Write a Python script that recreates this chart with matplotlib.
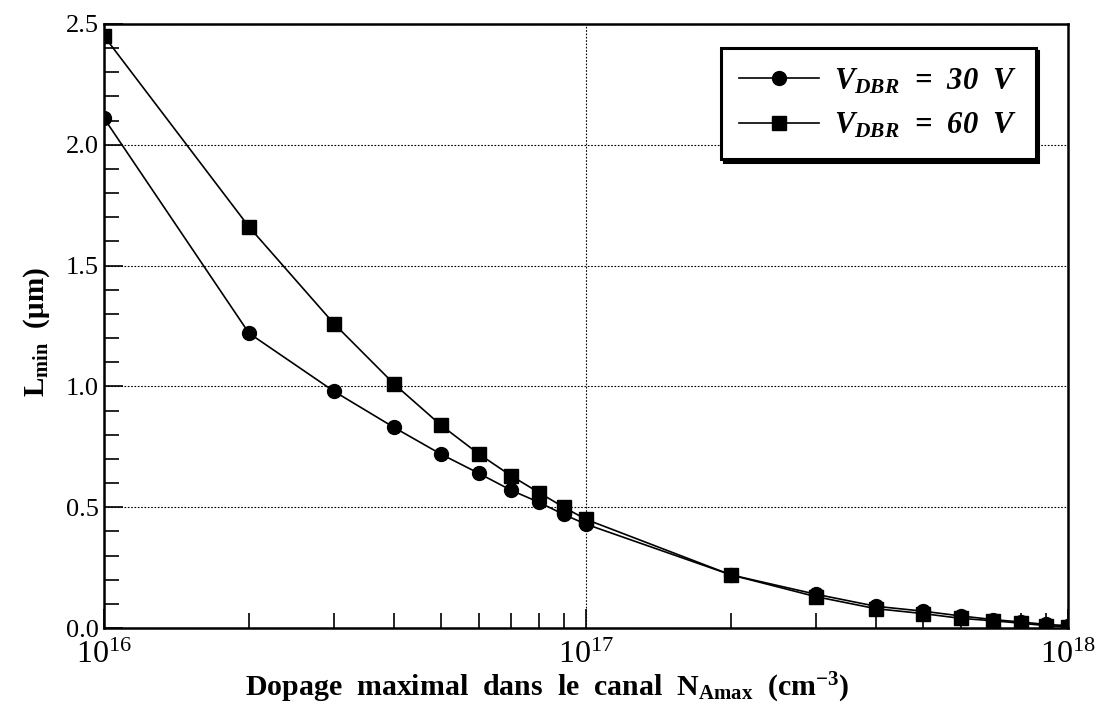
"""L_min versus peak channel doping for two drain breakdown voltages."""

import matplotlib
matplotlib.use("Agg")
import matplotlib.pyplot as plt
from matplotlib.ticker import LogLocator, MultipleLocator, NullFormatter

# doping levels (cm^-3) and minimum gate length (um)
n_amax = [1e16, 2e16, 3e16, 4e16, 5e16, 6e16, 7e16, 8e16, 9e16,
          1e17, 2e17, 3e17, 4e17, 5e17, 6e17, 7e17, 8e17, 9e17, 1e18]
lmin_30v = [2.11, 1.22, 0.98, 0.83, 0.72, 0.64, 0.57, 0.52, 0.47,
            0.43, 0.22, 0.14, 0.09, 0.07, 0.05, 0.035, 0.025, 0.015, 0.01]
lmin_60v = [2.45, 1.66, 1.26, 1.01, 0.84, 0.72, 0.63, 0.56, 0.50,
            0.45, 0.22, 0.13, 0.08, 0.06, 0.04, 0.03, 0.02, 0.01, 0.005]

plt.rcParams["font.family"] = ["Liberation Serif", "DejaVu Serif"]
plt.rcParams["mathtext.fontset"] = "custom"
plt.rcParams["mathtext.rm"] = "Liberation Serif"
plt.rcParams["mathtext.bf"] = "Liberation Serif:bold"
plt.rcParams["mathtext.it"] = "Liberation Serif:italic:bold"

fig = plt.figure(figsize=(11.03, 7.18), dpi=100)
ax = fig.add_axes([0.0943, 0.1253, 0.8737, 0.8413])

ax.plot(n_amax, lmin_30v, "-o", color="black", lw=1.2, ms=10,
        label=r"$V_{DBR}$  =  30  V")
ax.plot(n_amax, lmin_60v, "-s", color="black", lw=1.2, ms=10,
        label=r"$V_{DBR}$  =  60  V")

ax.set_xscale("log")
ax.set_xlim(1e16, 1e18)
ax.set_ylim(0, 2.5)
ax.yaxis.set_major_locator(MultipleLocator(0.5))
ax.yaxis.set_minor_locator(MultipleLocator(0.1))
ax.yaxis.set_major_formatter(lambda v, p: f"{v:.1f}")
ax.xaxis.set_major_locator(LogLocator(base=10, numticks=5))
ax.xaxis.set_minor_locator(LogLocator(base=10, subs=range(2, 10), numticks=20))
ax.xaxis.set_minor_formatter(NullFormatter())

ax.tick_params(which="both", direction="in", width=1.2, colors="black",
               top=False, right=False)
ax.tick_params(axis="y", labelsize=19, pad=4)
ax.tick_params(axis="x", labelsize=23, pad=9)
ax.tick_params(which="major", length=14)
ax.tick_params(which="minor", length=11)
ax.grid(True, which="major", linestyle=(0, (1.5, 1.5)), color="black", lw=0.8)
for sp in ax.spines.values():
    sp.set_linewidth(1.8)

ax.set_xlabel(r"Dopage  maximal  dans  le  canal  N$_{\mathbf{Amax}}$  (cm$^{\mathbf{-3}}$)",
              fontsize=21.5, fontweight="bold", labelpad=1, x=0.46)
ax.set_ylabel(r"L$_{\mathbf{min}}$  ($\mathbf{\mu}$m)", fontsize=21,
              fontweight="bold", labelpad=10, y=0.49)

leg = ax.legend(loc="upper right", bbox_to_anchor=(0.973, 0.97),
                prop={"size": 22, "weight": "bold", "style": "italic"},
                fancybox=False, shadow={"color": "black", "alpha": 1.0},
                framealpha=1, edgecolor="black", handlelength=2.6,
                borderpad=0.6, labelspacing=0.5, handletextpad=0.5,
                borderaxespad=0.2)
leg.get_frame().set_linewidth(2.2)

fig.savefig("out.png", dpi=100)
